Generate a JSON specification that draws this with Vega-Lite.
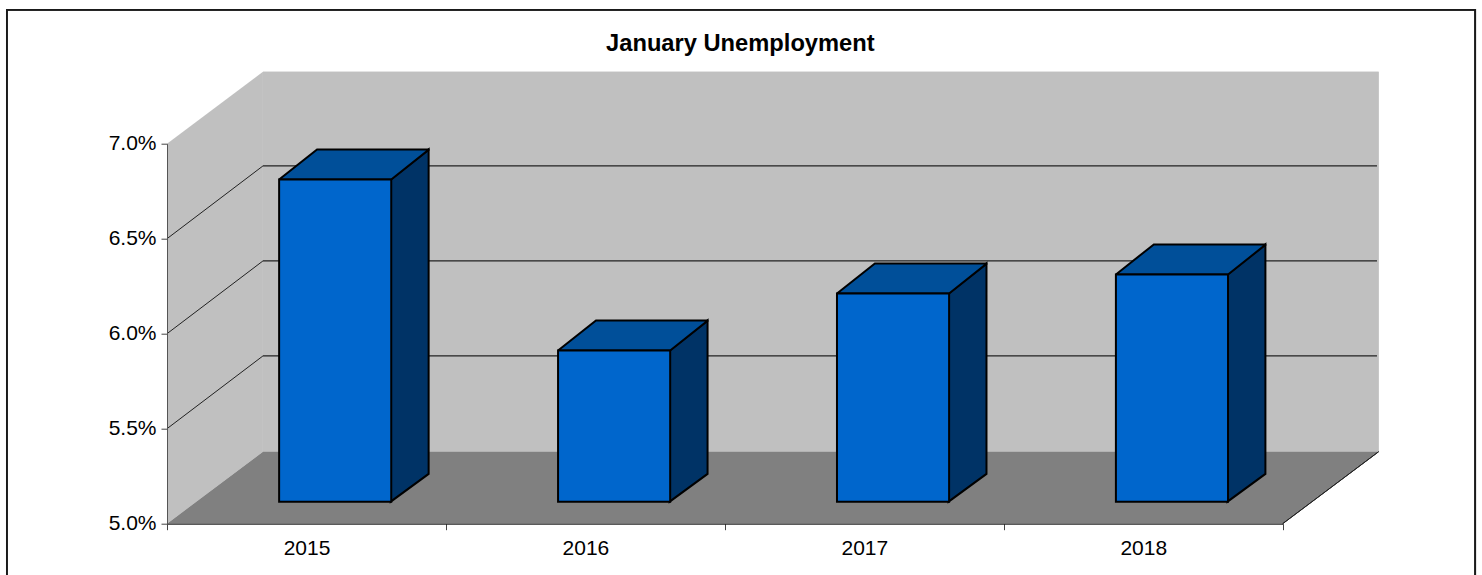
{
"$schema":"https://vega.github.io/schema/vega-lite/v6.json",
"width":1115.7,"height":380,
"autosize":{"type":"none"},
"padding":{"left":167,"top":143.7,"right":199.3,"bottom":51.3},
"background":"white",
"config":{"view":{"stroke":null},"font":"Liberation Sans"},
"title":{"text":"January Unemployment","font":"Liberation Sans","fontSize":23.7,"fontWeight":"bold","color":"#000","anchor":"middle","frame":"group","dx":15.5,"offset":-47},
"datasets":{
"unemployment":[{"year":2015,"rate":6.7},{"year":2016,"rate":5.8},{"year":2017,"rate":6.1},{"year":2018,"rate":6.2}],
"levels":[{"level":5.5},{"level":6.0},{"level":6.5}],
"depths":[{"depth":0},{"depth":1}],
"corners":[{"corner":0},{"corner":1},{"corner":2},{"corner":3},{"corner":4}]
},
"resolve":{"axis":{"x":"independent","y":"independent"}},
"layer":[
{"data":{"name":"depths"},
 "mark":{"type":"area","orient":"vertical","fill":"#C0C0C0"},
 "transform":[{"calculate":"2014.5+0.344*datum.depth","as":"wx"},{"calculate":"5+0.379*datum.depth","as":"lo"},{"calculate":"7+0.379*datum.depth","as":"hi"}],
 "encoding":{
  "x":{"field":"wx","type":"quantitative","title":null,"scale":{"domain":[2014.5,2018.5],"nice":false,"zero":false},
   "axis":{"values":[2014.5,2015.5,2016.5,2017.5,2018.5],"labelExpr":"datum.value<2018?format(datum.value+0.5,'d'):''","labelOffset":139.5,"labelFont":"Liberation Sans","labelFontSize":21,"labelColor":"#000","labelPadding":8,"labelOverlap":false,"labelFlush":false,"tickSize":6,"tickColor":"#444","domainColor":"#111","grid":false,"zindex":1,"title":null}},
  "y":{"field":"lo","type":"quantitative","title":null,"scale":{"domain":[5,7],"nice":false,"zero":false},
   "axis":{"values":[5,5.5,6,6.5,7],"labelExpr":"format(datum.value,'.1f')+'%'","labelFont":"Liberation Sans","labelFontSize":21,"labelColor":"#000","labelPadding":5,"tickSize":6,"tickColor":"#444","domainColor":"#555","grid":false,"zindex":1,"title":null}},
  "y2":{"field":"hi"}
 }},
{"data":{"name":"depths"},
 "mark":{"type":"rect","fill":"#C0C0C0"},
 "encoding":{
  "x":{"datum":2014.844,"type":"quantitative","axis":null},"x2":{"datum":2018.844},
  "y":{"datum":5.379,"type":"quantitative","axis":null},"y2":{"datum":7.379}
 }},
{"data":{"name":"corners"},
 "mark":{"type":"line","fill":"#808080","stroke":null},
 "transform":[{"calculate":"[2014.5,2018.5,2018.844,2014.844,2014.5][datum.corner]","as":"fx"},{"calculate":"[5,5,5.379,5.379,5][datum.corner]","as":"fy"}],
 "encoding":{
  "x":{"field":"fx","type":"quantitative","axis":null},
  "y":{"field":"fy","type":"quantitative","axis":null},
  "order":{"field":"corner"}
 }},
{"data":{"name":"levels"},
 "mark":{"type":"rule","stroke":"#222","strokeWidth":1.2},
 "transform":[{"calculate":"datum.level+0.383","as":"back"}],
 "encoding":{
  "x":{"datum":2014.844,"type":"quantitative","axis":null},"x2":{"datum":2018.838},
  "y":{"field":"back","type":"quantitative","axis":null}
 }},
{"data":{"name":"levels"},
 "mark":{"type":"rule","stroke":"#222","strokeWidth":1},
 "transform":[{"calculate":"datum.level+0.383","as":"back"}],
 "encoding":{
  "x":{"datum":2014.5,"type":"quantitative","axis":null},"x2":{"datum":2014.844},
  "y":{"field":"level","type":"quantitative","axis":null},"y2":{"field":"back"}
 }},
{"data":{"name":"depths"},
 "mark":{"type":"rule","stroke":"#222","strokeWidth":1},
 "encoding":{
  "x":{"datum":2018.5,"type":"quantitative","axis":null},"x2":{"datum":2018.844},
  "y":{"datum":5,"type":"quantitative","axis":null},"y2":{"datum":5.379}
 }},
{"data":{"name":"unemployment"},
 "mark":{"type":"area","orient":"vertical","fill":"#003366","stroke":"#000","strokeWidth":2,"strokeJoin":"miter","strokeMiterLimit":2.5},
 "transform":[{"calculate":"[0,1]","as":"depth"},{"flatten":["depth"]},
  {"calculate":"datum.year+0.302+0.136*datum.depth","as":"sx"},
  {"calculate":"datum.rate+0.112+0.158*datum.depth","as":"st"},
  {"calculate":"5.116+0.146*datum.depth","as":"sb"}],
 "encoding":{
  "x":{"field":"sx","type":"quantitative","axis":null},
  "y":{"field":"st","type":"quantitative","axis":null},
  "y2":{"field":"sb"},
  "detail":{"field":"year"}
 }},
{"data":{"name":"unemployment"},
 "mark":{"type":"line","fill":"#004F99","stroke":"#000","strokeWidth":2,"strokeJoin":"miter","strokeMiterLimit":2.5},
 "transform":[{"calculate":"[0,1,2,3,4]","as":"corner"},{"flatten":["corner"]},
  {"calculate":"datum.year+[-0.098,0.304,0.44,0.038,-0.098][datum.corner]","as":"tx"},
  {"calculate":"datum.rate+0.112+[0,0,0.158,0.158,0][datum.corner]","as":"ty"}],
 "encoding":{
  "x":{"field":"tx","type":"quantitative","axis":null},
  "y":{"field":"ty","type":"quantitative","axis":null},
  "detail":{"field":"year"},
  "order":{"field":"corner"}
 }},
{"data":{"name":"unemployment"},
 "mark":{"type":"rect","fill":"#0066CC","stroke":"#000","strokeWidth":2},
 "transform":[{"calculate":"datum.year-0.098","as":"l"},{"calculate":"datum.year+0.304","as":"r"},{"calculate":"datum.rate+0.112","as":"t"}],
 "encoding":{
  "x":{"field":"l","type":"quantitative","axis":null},"x2":{"field":"r"},
  "y":{"field":"t","type":"quantitative","axis":null},"y2":{"datum":5.116}
 }},
{"data":{"name":"depths"},
 "mark":{"type":"rect","fill":null,"stroke":"#1a1a1a","strokeWidth":1.8},
 "encoding":{
  "x":{"datum":2013.926,"type":"quantitative","axis":null},"x2":{"datum":2019.19},
  "y":{"datum":7.704,"type":"quantitative","axis":null},"y2":{"datum":4.6}
 }}
]
}
